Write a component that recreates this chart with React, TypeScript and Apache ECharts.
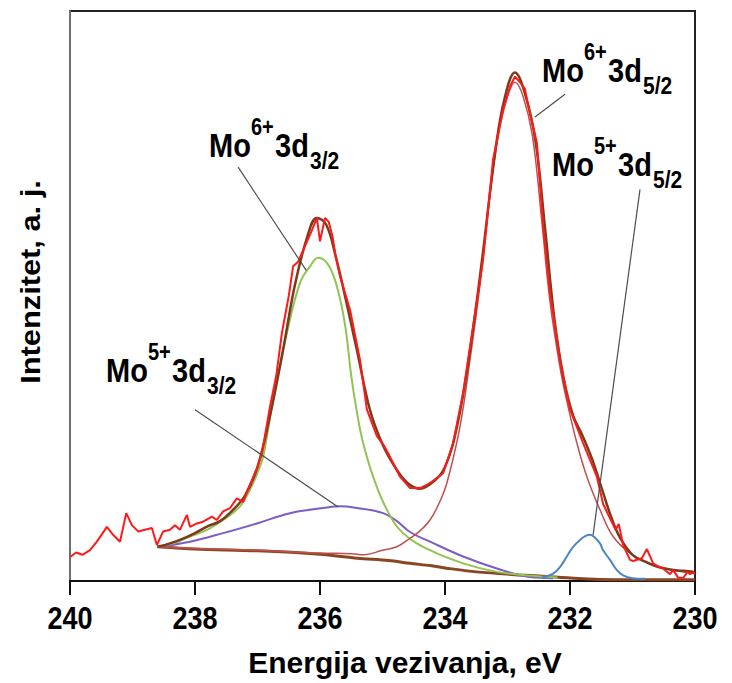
import React, { useEffect, useRef } from "react";
import * as echarts from "echarts";

// ---- data (binding energy eV, intensity a.u. 0..100) ----
const xTicks = [240, 238, 236, 234, 232, 230];

const expE = [240.0, 239.9, 239.8, 239.68, 239.57, 239.41, 239.31, 239.2, 239.1, 239.01, 238.91, 238.8, 238.69, 238.61, 238.51, 238.4, 238.32, 238.24, 238.13, 238.08, 237.97, 237.87, 237.73, 237.65, 237.55, 237.44, 237.33, 237.23, 237.12, 237.0, 236.93, 236.8, 236.7, 236.61, 236.5, 236.43, 236.35, 236.27, 236.15, 236.05, 236.0, 235.92, 235.86, 235.8, 235.75, 235.68, 235.52, 235.36, 235.25, 235.09, 234.98, 234.91, 234.72, 234.56, 234.4, 234.3, 234.24, 234.03, 233.87, 233.71, 233.55, 233.39, 233.23, 233.07, 232.95, 232.88, 232.8, 232.72, 232.69, 232.53, 232.43, 232.32, 232.16, 232.0, 231.79, 231.57, 231.47, 231.36, 231.27, 231.22, 231.15, 231.04, 230.99, 230.85, 230.77, 230.67, 230.6, 230.51, 230.4, 230.35, 230.27, 230.19, 230.12, 230.08, 230.03, 230.0];
const expI = [4.2, 5.0, 4.6, 5.4, 6.9, 9.5, 8.1, 6.9, 11.9, 9.8, 8.7, 9.0, 9.3, 6.3, 8.7, 9.0, 9.8, 9.0, 11.6, 9.5, 10.1, 10.4, 11.3, 10.7, 12.2, 12.8, 14.5, 13.9, 16.9, 20.0, 22.4, 30.6, 36.0, 43.5, 50.0, 55.2, 56.0, 58.0, 61.0, 63.7, 59.6, 63.7, 63.0, 60.5, 57.0, 53.5, 47.6, 38.8, 30.1, 25.4, 23.8, 22.4, 18.3, 16.3, 16.3, 16.8, 17.2, 18.9, 24.2, 33.0, 44.7, 56.4, 74.0, 82.8, 87.0, 88.5, 87.5, 86.3, 84.5, 76.9, 62.3, 50.6, 38.8, 30.1, 24.2, 18.3, 13.5, 11.0, 9.0, 10.0, 6.3, 3.7, 3.5, 4.0, 5.6, 3.1, 2.6, 2.2, 1.2, 1.9, 0.6, 0.5, 1.6, 1.2, 1.5, 1.2];

const envE = [238.6, 238.4, 238.2, 238.0, 237.8, 237.6, 237.4, 237.2, 237.0, 236.8, 236.6, 236.4, 236.2, 236.05, 235.9, 235.75, 235.6, 235.4, 235.2, 235.0, 234.8, 234.6, 234.4, 234.2, 234.0, 233.8, 233.6, 233.4, 233.2, 233.05, 232.88, 232.72, 232.55, 232.4, 232.25, 232.1, 231.95, 231.8, 231.65, 231.5, 231.35, 231.2, 231.0, 230.8, 230.6, 230.4, 230.2, 230.0];
const envI = [6.0, 6.6, 7.4, 8.4, 9.6, 10.5, 12.4, 15.0, 20.0, 29.0, 40.0, 52.0, 60.5, 63.7, 62.5, 57.0, 50.0, 40.0, 30.0, 24.0, 20.0, 17.2, 16.2, 17.3, 20.0, 27.5, 40.5, 57.0, 75.0, 84.5, 89.2, 85.5, 77.0, 62.0, 46.0, 35.5, 29.0, 25.5, 21.5, 16.5, 11.5, 7.6, 4.6, 3.4, 2.5, 2.0, 1.8, 1.6];

const mo6_32E = [238.6, 238.3, 238.08, 237.8, 237.55, 237.28, 237.12, 237.0, 236.91, 236.75, 236.53, 236.32, 236.16, 236.03, 235.87, 235.73, 235.6, 235.5, 235.4, 235.31, 235.15, 234.93, 234.67, 234.24, 233.71, 233.17, 232.6, 232.2];
const mo6_32I = [6.0, 6.8, 7.8, 9.0, 10.7, 13.1, 16.0, 19.0, 21.8, 31.8, 43.5, 52.3, 55.2, 56.7, 55.5, 51.7, 45.0, 36.0, 29.0, 24.2, 18.3, 12.5, 8.4, 5.4, 3.1, 1.6, 0.9, 0.6];

const mo5_32E = [238.6, 238.08, 237.55, 237.01, 236.48, 235.95, 235.68, 235.41, 234.99, 234.77, 234.56, 234.24, 233.71, 233.17, 232.64, 232.27];
const mo5_32I = [6.0, 6.9, 8.4, 10.1, 11.9, 12.8, 13.1, 12.8, 11.9, 10.5, 8.6, 6.9, 4.3, 2.2, 0.7, 0.5];

const mo5_52E = [232.45, 232.27, 232.15, 232.05, 231.95, 231.84, 231.75, 231.68, 231.6, 231.52, 231.47, 231.36, 231.25, 231.15, 231.0, 230.8];
const mo5_52I = [0.6, 1.3, 2.6, 4.3, 6.0, 7.2, 7.9, 8.1, 7.6, 6.6, 5.4, 3.7, 1.9, 1.0, 0.5, 0.4];

const mo6_52E = [238.6, 238.0, 237.0, 236.0, 235.5, 235.3, 235.0, 234.77, 234.56, 234.4, 234.24, 234.1, 233.97, 233.76, 233.6, 233.44, 233.3, 233.15, 233.0, 232.88, 232.75, 232.6, 232.45, 232.32, 232.16, 232.05, 231.89, 231.73, 231.52, 231.31, 231.04, 230.72, 230.35, 230.03];
const mo6_52I = [6.0, 5.7, 5.4, 4.9, 4.8, 4.6, 5.4, 6.0, 7.5, 8.8, 10.7, 13.5, 17.2, 27.1, 38.8, 52.0, 66.0, 78.0, 85.0, 87.5, 85.0, 78.0, 63.0, 49.0, 37.5, 31.5, 24.2, 18.3, 12.5, 7.8, 4.9, 3.1, 1.9, 1.4];

const bgE = [238.6, 238.0, 237.0, 236.0, 235.4, 234.9, 234.56, 234.24, 234.0, 233.5, 232.4, 231.6, 230.8, 230.0];
const bgI = [6.0, 5.6, 5.3, 4.7, 4.0, 3.6, 3.1, 2.7, 2.3, 1.6, 0.8, 0.3, 0.2, 0.2];

// leader lines: [label end, curve end] in data coordinates
const leaderLines = [
  [[237.31, 72.6], [236.22, 54.5]],
  [[238.0, 30.05], [235.71, 13.0]],
  [[232.08, 85.4], [232.56, 81.4]],
  [[230.88, 68.7], [231.63, 8.1]],
];

const xTitle = "Energija vezivanja, eV";
const yTitle = "Intenzitet, a. j.";

const FONT = "'Liberation Sans', Arial, Helvetica, sans-serif";
const S = 1.15;
const FS = 29;
const FSS = 21;

type Part = { t: string; x: number; base: number; fs: number };

function labelGroup(x0: number, base0: number, parts: Part[]) {
  return {
    type: "group",
    x: x0,
    y: base0,
    scaleY: S,
    children: parts.map((p) => ({
      type: "text",
      x: p.x - x0,
      y: (p.base - base0) / S - 0.35 * p.fs,
      style: {
        text: p.t,
        fontSize: p.fs,
        fontWeight: "bold",
        fontFamily: FONT,
        fill: "#000",
        align: "left",
        verticalAlign: "middle",
      },
    })),
  };
}

// Mo^{sup}3d_{sub} label: x0 = left of "Mo", base / supBase / subBase = baselines
function moLabel(x0: number, base: number, sup: string, sub: string) {
  return labelGroup(x0, base, [
    { t: "Mo", x: x0, base, fs: FS },
    { t: sup, x: x0 + 42, base: base - 22, fs: FSS - 1 },
    { t: "3d", x: x0 + 66, base, fs: FS },
    { t: sub, x: x0 + 101, base: base + 12, fs: FSS },
  ]);
}

function pairs(e: number[], v: number[]) {
  return e.map((x, i) => [x, v[i]]);
}

export default function App() {
  const ref = useRef<HTMLDivElement>(null);
  useEffect(() => {
    const chart = echarts.init(ref.current!, null, { renderer: "svg" });
    const line = (name: string, data: number[][], color: string, width: number, smooth: boolean | number) => ({
      name,
      type: "line",
      data,
      smooth,
      symbol: "none",
      lineStyle: { color, width },
      itemStyle: { color },
    });
    chart.setOption({
      animation: false,
      backgroundColor: "#fff",
      grid: { left: 70, right: 37, top: 11, bottom: 102, show: true, borderColor: "#222", borderWidth: 2 },
      xAxis: {
        type: "value",
        inverse: true,
        min: 230,
        max: 240,
        interval: 2,
        axisLine: { show: true, lineStyle: { color: "#111", width: 2 } },
        axisTick: { show: true, inside: false, length: 14, lineStyle: { color: "#111", width: 2 } },
        axisLabel: { show: false },
        splitLine: { show: false },
      },
      yAxis: {
        type: "value",
        min: 0,
        max: 100,
        axisLine: { show: true, lineStyle: { color: "#6f6f6f", width: 2 } },
        axisTick: { show: false },
        axisLabel: { show: false },
        splitLine: { show: false },
      },
      series: [
        line("background", pairs(bgE, bgI), "#8a4523", 3, 0.3),
        line("Mo5+ 3d3/2", pairs(mo5_32E, mo5_32I), "#7d5cc6", 2, 0.4),
        line("Mo6+ 3d3/2", pairs(mo6_32E, mo6_32I), "#92c353", 2, 0.4),
        line("Mo5+ 3d5/2", pairs(mo5_52E, mo5_52I), "#4a86c8", 2, 0.4),
        line("Mo6+ 3d5/2", pairs(mo6_52E, mo6_52I), "#c0504d", 1.5, 0.4),
        line("envelope", pairs(envE, envI), "#7a3b1c", 2.5, 0.4),
        line("experiment", pairs(expE, expI), "#ff1a1a", 2, false),
      ],
    });

    const px = (p: number[]) => chart.convertToPixel({ gridIndex: 0 }, p) as number[];

    const graphics: any[] = [];
    leaderLines.forEach((l) => {
      const a = px(l[0]);
      const b = px(l[1]);
      graphics.push({
        type: "line",
        shape: { x1: a[0], y1: a[1], x2: b[0], y2: b[1] },
        style: { stroke: "#4d4d4d", lineWidth: 1.2 },
        z: 100,
      });
    });
    xTicks.forEach((t) => {
      const p = px([t, 0]);
      graphics.push({
        type: "group",
        x: p[0],
        y: 618,
        scaleY: 1.15,
        children: [
          {
            type: "text",
            x: 0,
            y: 0,
            style: { text: String(t), fontSize: 27, fontWeight: "bold", fontFamily: FONT, fill: "#000", align: "center", verticalAlign: "middle" },
          },
        ],
      });
    });
    graphics.push({
      type: "text",
      x: 405,
      y: 662,
      style: { text: xTitle, fontSize: 30, fontWeight: "bold", fontFamily: FONT, fill: "#000", align: "center", verticalAlign: "middle" },
    });
    graphics.push({
      type: "group",
      x: 30,
      y: 282,
      scaleY: 1.1,
      children: [
        {
          type: "text",
          x: 0,
          y: 0,
          rotation: Math.PI / 2,
          style: { text: yTitle, fontSize: 28, fontWeight: "bold", fontFamily: FONT, fill: "#000", align: "center", verticalAlign: "middle" },
        },
      ],
    });
    graphics.push(moLabel(542, 82, "6+", "5/2"));
    graphics.push(moLabel(552, 176, "5+", "5/2"));
    graphics.push(moLabel(209, 157, "6+", "3/2"));
    graphics.push(moLabel(106, 382, "5+", "3/2"));
    chart.setOption({ graphic: graphics });

    return () => chart.dispose();
  }, []);
  return <div ref={ref} style={{ position: "fixed", left: 0, top: 0, width: 732, height: 683 }} />;
}
